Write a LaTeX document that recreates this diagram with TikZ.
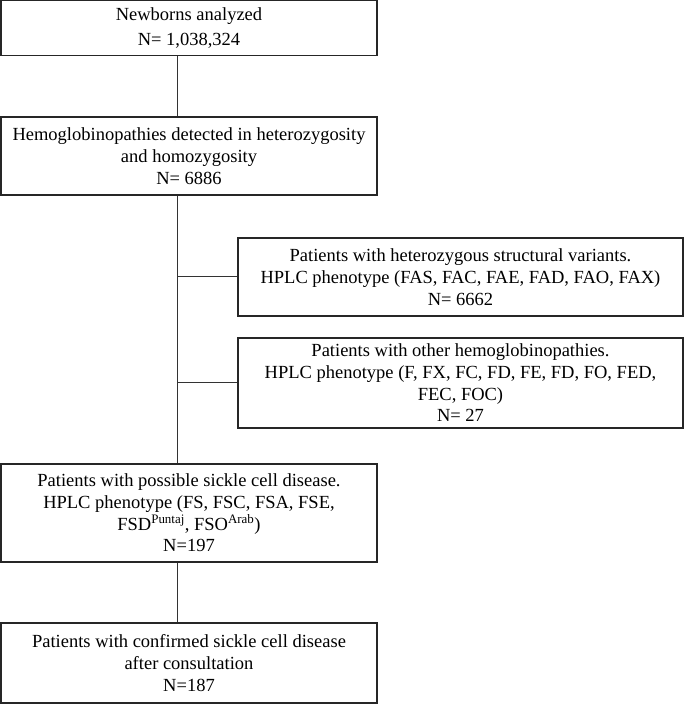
\documentclass[tikz,border=0pt]{standalone}
\usepackage{fontspec}
\setmainfont{Liberation Serif}
\begin{document}
\begin{tikzpicture}[x=1pt,y=1pt,
  box/.style={draw=black!85, line width=1.3pt, inner sep=0pt, align=center,
    font=\fontsize{18.5}{21.7}\selectfont},
  conn/.style={draw=black!80, line width=1pt}]
\useasboundingbox (0,0) rectangle (685,705);
\coordinate (trunk) at (177.5,0);
\node[box, minimum width=376pt, minimum height=55pt, font=\fontsize{18.5}{24.5}\selectfont] (b1) at (189,677)
  {Newborns analyzed\\N= 1,038,324};
\node[box, minimum width=376pt, minimum height=78pt] (b2) at (189,549)
  {Hemoglobinopathies detected in heterozygosity\\and homozygosity\\N= 6886};
\node[box, minimum width=445pt, minimum height=78pt] (b3) at (460.5,428)
  {Patients with heterozygous structural variants.\\HPLC phenotype (FAS, FAC, FAE, FAD, FAO, FAX)\\N= 6662};
\node[box, minimum width=445pt, minimum height=90pt] (b4) at (460.5,322)
  {Patients with other hemoglobinopathies.\\HPLC phenotype (F, FX, FC, FD, FE, FD, FO, FED,\\FEC, FOC)\\N= 27};
\node[box, minimum width=376pt, minimum height=98pt] (b5) at (189,192)
  {Patients with possible sickle cell disease.\\HPLC phenotype (FS, FSC, FSA, FSE,\\FSD\textsuperscript{Puntaj}, FSO\textsuperscript{Arab})\\N=197};
\node[box, minimum width=376pt, minimum height=80pt] (b6) at (189,42)
  {Patients with confirmed sickle cell disease\\after consultation\\N=187};
\draw[conn] (b1.south -| trunk) -- (b2.north -| trunk);
\draw[conn] (b2.south -| trunk) -- (b5.north -| trunk);
\draw[conn] (b3.west -| trunk) -- (b3.west);
\draw[conn] (b4.west -| trunk) -- (b4.west);
\draw[conn] (b5.south -| trunk) -- (b6.north -| trunk);
\end{tikzpicture}
\end{document}
